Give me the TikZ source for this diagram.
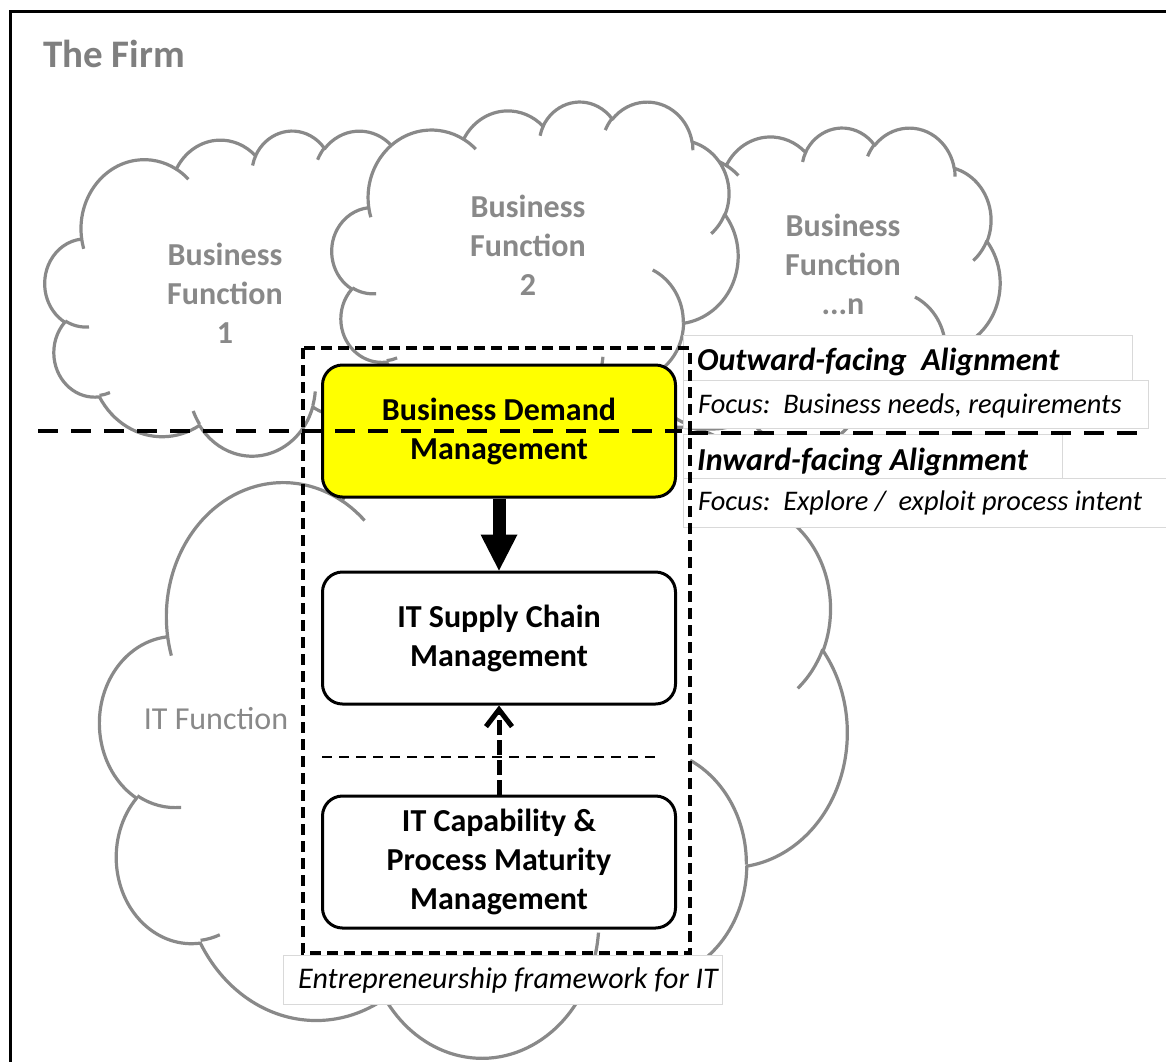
\documentclass[tikz,border=0pt]{standalone}
\usepackage{fontspec}
\setmainfont{Carlito}
\usetikzlibrary{arrows.meta}
\definecolor{cloudgray}{HTML}{898989}
\definecolor{firmgray}{HTML}{7F7F7F}
\definecolor{boxgray}{HTML}{D9D9D9}
\definecolor{demandyellow}{HTML}{FFFF00}

% arc of an ellipse, OOXML style: wR hR (units of 1000) start angle, sweep (visual degrees)
\newcommand\ooarc[4]{%
  \pgfmathsetmacro\ooA{atan2((#1)*sin(#3),(#2)*cos(#3))}%
  \pgfmathsetmacro\ooB{atan2((#1)*sin((#3)+(#4)),(#2)*cos((#3)+(#4)))}%
  \pgfmathsetmacro\ooD{(\ooB)-(\ooA)}%
  \pgfmathsetmacro\ooD{(\ooD)+360*((#4)>0)*((\ooD)<0)-360*((#4)<0)*((\ooD)>0)}%
  \pgfmathsetmacro\ooRx{(#1)*\cldsx}%
  \pgfmathsetmacro\ooRy{(#2)*\cldsy}%
  \pgfmathsetmacro\ooS{0-(\ooA)}%
  \pgfmathsetmacro\ooE{0-(\ooA)-(\ooD)}%
  \pgfpatharc{\ooS}{\ooE}{\ooRx pt and \ooRy pt}%
}
\newcommand\cldmove[2]{%
  \pgfmathsetmacro\ooX{\cldx+\cldsx*(#1)}%
  \pgfmathsetmacro\ooY{0-(\cldy+\cldsy*(#2))}%
  \pgfpathmoveto{\pgfpoint{\ooX pt}{\ooY pt}}%
}
\newcommand\cloudbody{%
  \cldmove{3.9}{14.37}%
  \ooarc{6.753}{9.19}{-190.48748}{123.78053}%
  \ooarc{5.333}{7.267}{-144.10238}{89.94523}%
  \ooarc{4.365}{5.945}{-145.80792}{99.72302}%
  \ooarc{4.857}{6.595}{-130.98607}{117.24173}%
  \ooarc{5.333}{7.273}{-78.70888}{109.02692}%
  \ooarc{6.775}{9.22}{-46.26725}{130.269}%
  \ooarc{5.785}{7.867}{0.62502}{114.03333}%
  \ooarc{6.752}{9.215}{22.4516}{115.17255}%
  \ooarc{7.72}{10.543}{66.24263}{75.71102}%
  \ooarc{4.36}{5.918}{-274.94208}{146.73557}%
  \ooarc{4.345}{5.945}{-246.8285}{152.51885}%
  \pgfpathclose
}
\newcommand\cloudtails{%
  \cldmove{4.693}{26.177}\ooarc{4.345}{5.945}{86.742}{26.4295}%
  \cldmove{6.928}{34.899}\ooarc{4.36}{5.918}{73.6105}{11.4475}%
  \cldmove{16.478}{39.09}\ooarc{6.752}{9.215}{137.6242}{14.0811}%
  \cldmove{28.827}{34.751}\ooarc{6.752}{9.215}{6.4533}{15.9984}%
  \cldmove{34.129}{22.954}\ooarc{5.785}{7.867}{-70.2924}{70.9174}%
  \cldmove{41.798}{15.354}\ooarc{5.333}{7.273}{30.318}{27.7515}%
  \cldmove{38.324}{5.426}\ooarc{4.857}{6.595}{-13.7443}{14.8589}%
  \cldmove{29.078}{3.952}\ooarc{4.857}{6.595}{-149.1815}{18.1954}%
  \cldmove{22.141}{4.72}\ooarc{4.365}{5.945}{-163.4943}{17.6864}%
  \cldmove{14.0}{5.192}\ooarc{6.753}{9.19}{-66.707}{12.3194}%
  \cldmove{4.127}{15.789}\ooarc{6.753}{9.19}{157.6544}{11.8582}%
}
\newcommand\cloudat[4]{%
  \def\cldx{#1}\def\cldy{#2}%
  \pgfmathsetmacro\cldsx{#3/43.2}%
  \pgfmathsetmacro\cldsy{#4/43.2}%
  \path[cloudshape] \pgfextra{\cloudbody};
  \path[cloudline] \pgfextra{\cloudtails};
}

\tikzset{
  cloudshape/.style={draw=cloudgray, fill=white, line width=3.2pt, line join=round},
  cloudline/.style={draw=cloudgray, line width=3.2pt},
  cloudtext/.style={text=cloudgray, font=\bfseries\fontsize{32}{39}\selectfont, align=center, inner sep=0pt},
  procbox/.style={draw=black, line width=3pt, rounded corners=20pt, fill=white,
    minimum width=353pt, minimum height=132pt, align=center, inner sep=0pt,
    font=\bfseries\fontsize{32}{39}\selectfont},
  tbox/.style={draw=boxgray, fill=white, line width=1pt},
  titletext/.style={font=\bfseries\itshape\fontsize{32}{39}\selectfont, inner sep=0pt, anchor=base west},
  focustext/.style={font=\itshape\fontsize{28.4}{34}\selectfont, inner sep=0pt, anchor=base west},
  captext/.style={font=\itshape\fontsize{30}{36}\selectfont, inner sep=0pt, anchor=base west},
  fwbox/.style={draw=black, line width=3.5pt, dash pattern=on 11pt off 6pt},
  bigarrow/.style={line width=13pt, -{Triangle[length=36pt,width=37pt,line width=0pt]}},
  dasharrow/.style={line width=5pt, dash pattern=on 15pt off 5pt, -{Straight Barb[length=17pt,width=26pt]}},
  thindash/.style={line width=2.5pt, dash pattern=on 10pt off 7pt},
  splitdash/.style={line width=4pt, dash pattern=on 20pt off 13pt},
}

\begin{document}
\begin{tikzpicture}[x=1pt,y=-1pt]
\useasboundingbox (0,0) rectangle (1166,1061);
\fill[white] (0,0) rectangle (1166,1061);
% outer frame
\draw[line width=3pt] (10,11) rectangle (1200,1100);
\node[anchor=base west, inner sep=0pt, text=firmgray, font=\bfseries\fontsize{39}{47}\selectfont] (firm) at (43,67) {The Firm};

% clouds
\cloudat{100}{425}{747}{631}
\cloudat{45}{130}{405}{325}
\cloudat{595}{127}{405}{320}
\cloudat{332}{101}{406}{318}

\node[cloudtext] (bf1) at (225,293) {Business\\Function\\1};
\node[cloudtext] (bf2) at (528,245) {Business\\Function\\2};
\node[cloudtext] (bfn) at (843,264) {Business\\Function\\...n};
\node[text=cloudgray, font=\fontsize{32}{39}\selectfont, inner sep=0pt] (itf) at (216,719) {IT Function};

% alignment text boxes
\draw[tbox] (683,335) rectangle (1132,380);
\draw[tbox] (683,380) rectangle (1148,428);
\draw[tbox] (683,434) rectangle (1062,478);
\draw[tbox] (683,478) rectangle (1180,527);
\node[titletext] (outw) at (697,370) {Outward-facing\ \ Alignment};
\node[focustext] (outf) at (698,413) {Focus:\ \ Business needs, requirements};
\node[titletext] (inw) at (697,470) {Inward-facing Alignment};
\node[focustext] (inf) at (698,510) {Focus:\ \ Explore /\ \ exploit process intent};

% framework caption
\draw[tbox] (283,955) rectangle (722,1004);
\node[captext] (efit) at (298,988) {Entrepreneurship framework for IT};

% framework
\draw[fwbox] (303,348) rectangle (690,953);

\node[procbox, fill=demandyellow] (bdm) at (499,431) {Business Demand\\Management};
\node[procbox] (scm) at (499,638) {IT Supply Chain\\Management};
\node[procbox] (cap) at (499,862) {IT Capability \&\\Process Maturity\\Management};

\draw[bigarrow] (bdm.south) -- (scm.north);
\draw[thindash] (322,757) -- (660,757);
\draw[dasharrow] (cap.north) -- (scm.south);

% alignment divide
\draw[splitdash] (38,431) -- (682,431);
\draw[splitdash] (688,433) -- (1145,433);
\end{tikzpicture}
\end{document}
